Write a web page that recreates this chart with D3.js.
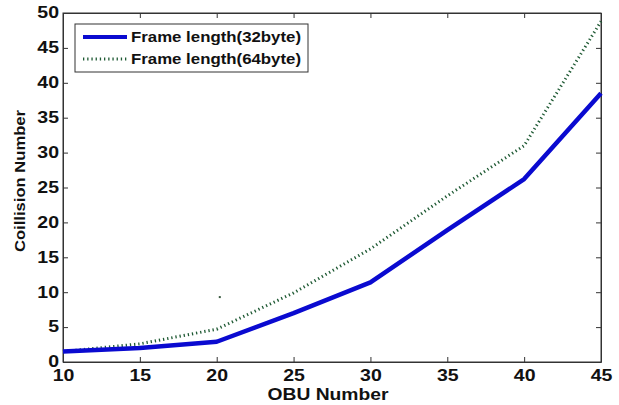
<!DOCTYPE html>
<html>
<head>
<meta charset="utf-8">
<script src="https://cdn.jsdelivr.net/npm/d3@7"></script>
<style>
  html, body { margin: 0; padding: 0; background: #fff; }
  svg { display: block; }
  text { font-family: "Liberation Sans", Arial, sans-serif; }
</style>
</head>
<body>
<svg id="chart" width="619" height="405"></svg>
<script>
// OBU counts on the x axis
const obuNumbers = [10, 15, 20, 25, 30, 35, 40, 45];
// Collision counts per frame length
const frame32 = [1.5, 2.0, 2.9, 7.0, 11.4, 18.9, 26.2, 38.5];
const frame64 = [1.5, 2.6, 4.7, 9.9, 16.2, 23.8, 31.0, 48.8];
// Isolated marker sitting inside the plot
const strayPoints = [[20.2, 9.3]];
// Axis ticks
const xTicks = [10, 15, 20, 25, 30, 35, 40, 45];
const yTicks = [0, 5, 10, 15, 20, 25, 30, 35, 40, 45, 50];
const seriesNames = ["Frame length(32byte)", "Frame length(64byte)"];

const svg = d3.select("#chart");
const plotL = 63, plotR = 601, plotT = 13, plotB = 362;

const x = d3.scaleLinear().domain([10, 45]).range([plotL, plotR]);
const y = d3.scaleLinear().domain([0, 50]).range([plotB, plotT]);

const axisColor = "#333";
const tickLen = 5;
const stretch = 1.22; // wide Helvetica-like glyphs

// Plot frame
svg.append("rect")
  .attr("x", plotL).attr("y", plotT)
  .attr("width", plotR - plotL).attr("height", plotB - plotT)
  .attr("fill", "none").attr("stroke", axisColor).attr("stroke-width", 1);

// Bottom axis with inward ticks
const xAxis = svg.append("g")
  .attr("transform", `translate(0,${plotB})`)
  .call(d3.axisBottom(x).tickValues(xTicks).tickSizeInner(-tickLen).tickSizeOuter(0).tickPadding(9));
// Left axis with inward ticks
const yAxis = svg.append("g")
  .attr("transform", `translate(${plotL},0)`)
  .call(d3.axisLeft(y).tickValues(yTicks).tickSizeInner(-tickLen).tickSizeOuter(0).tickPadding(0));
// Top and right ticks
svg.append("g")
  .attr("transform", `translate(0,${plotT})`)
  .call(d3.axisTop(x).tickValues(xTicks).tickSizeInner(-tickLen).tickSizeOuter(0).tickFormat(""));
svg.append("g")
  .attr("transform", `translate(${plotR},0)`)
  .call(d3.axisRight(y).tickValues(yTicks).tickSizeInner(-tickLen).tickSizeOuter(0).tickFormat(""));

svg.selectAll(".domain").attr("stroke", axisColor);
svg.selectAll(".tick line").attr("stroke", axisColor);
svg.selectAll(".tick text")
  .attr("fill", "#111")
  .style("font-size", "16px")
  .style("font-weight", "bold");
xAxis.selectAll(".tick text").attr("dy", "0.62em")
  .attr("transform", `scale(${stretch},1)`);
yAxis.selectAll(".tick text").attr("x", -4 / stretch).attr("dy", "0.3em")
  .attr("transform", `scale(${stretch},1)`);

// Axis titles
svg.append("text")
  .attr("x", 328).attr("y", 400)
  .attr("text-anchor", "middle")
  .attr("textLength", 121).attr("lengthAdjust", "spacingAndGlyphs")
  .style("font-size", "17px").style("font-weight", "bold")
  .attr("fill", "#111")
  .text("OBU Number");
svg.append("text")
  .attr("transform", `translate(25,181) rotate(-90)`)
  .attr("text-anchor", "middle")
  .attr("textLength", 142).attr("lengthAdjust", "spacingAndGlyphs")
  .style("font-size", "15px").style("font-weight", "bold")
  .attr("fill", "#111")
  .text("Coillision Number");

const line = d3.line().x((d, i) => x(obuNumbers[i])).y(d => y(d));

const style32 = { stroke: "#0a0ad0", width: 4.5, dash: null };
const style64 = { stroke: "#1f5a34", width: 3, dash: "1.3,2.9" };

svg.append("path").datum(frame64)
  .attr("d", line).attr("fill", "none")
  .attr("stroke", style64.stroke).attr("stroke-width", style64.width)
  .attr("stroke-dasharray", style64.dash);
svg.append("path").datum(frame32)
  .attr("d", line).attr("fill", "none")
  .attr("stroke", style32.stroke).attr("stroke-width", style32.width)
  .attr("stroke-linejoin", "round");

svg.selectAll(".stray").data(strayPoints).enter().append("rect")
  .attr("class", "stray")
  .attr("x", d => x(d[0]) - 1).attr("y", d => y(d[1]) - 1)
  .attr("width", 2).attr("height", 2)
  .attr("fill", "#3a5a40");

// Legend
const lg = svg.append("g");
lg.append("rect")
  .attr("x", 75).attr("y", 24).attr("width", 233).attr("height", 48)
  .attr("fill", "#fff").attr("stroke", axisColor).attr("stroke-width", 1);
const styles = [style32, style64];
seriesNames.forEach((name, i) => {
  const cy = 37 + i * 22;
  lg.append("line")
    .attr("x1", 83).attr("x2", 127).attr("y1", cy).attr("y2", cy)
    .attr("stroke", styles[i].stroke).attr("stroke-width", i === 0 ? 4 : 3)
    .attr("stroke-dasharray", styles[i].dash);
  lg.append("text")
    .attr("x", 131).attr("y", cy + 5)
    .attr("textLength", 170).attr("lengthAdjust", "spacingAndGlyphs")
    .style("font-size", "14.5px").style("font-weight", "bold")
    .attr("fill", "#111")
    .text(name);
});
</script>
</body>
</html>
